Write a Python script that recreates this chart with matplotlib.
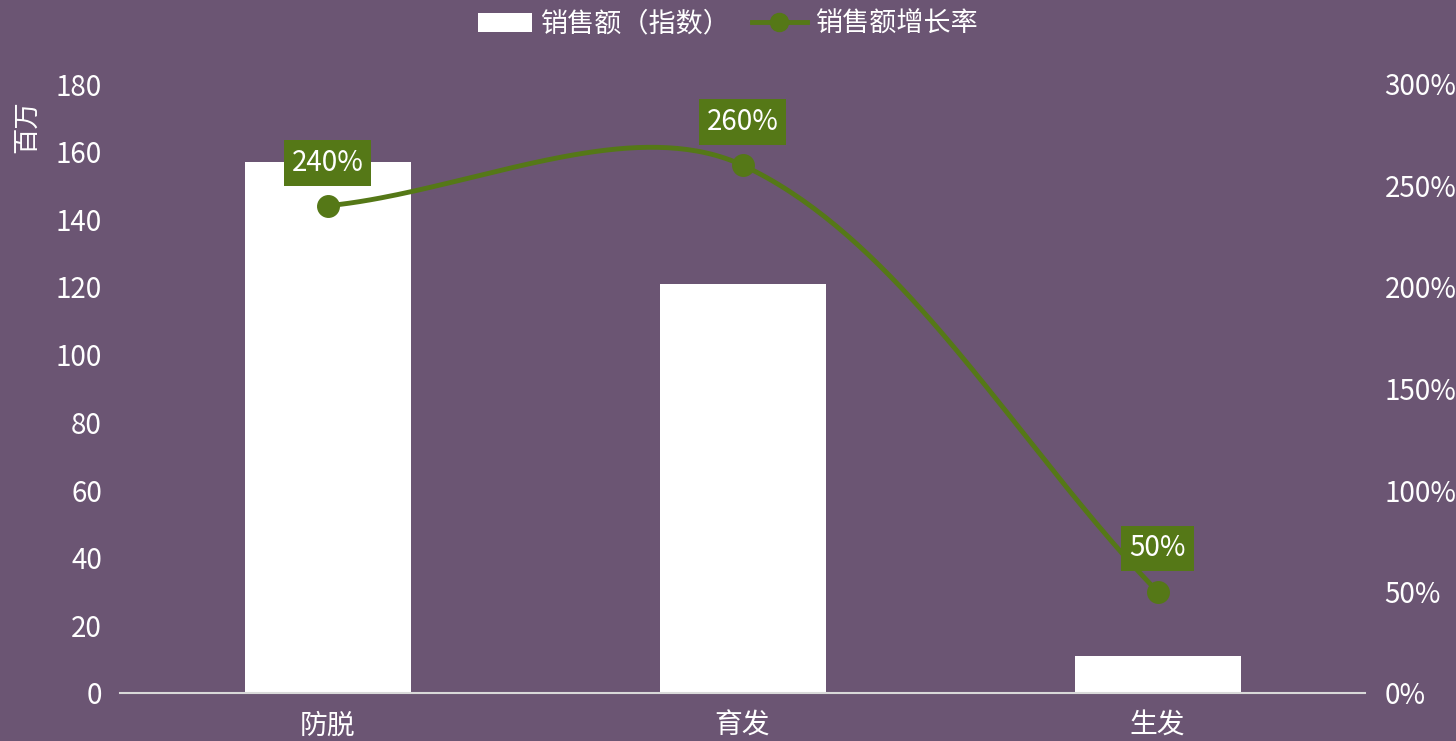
import numpy as np
import matplotlib.pyplot as plt
from matplotlib.lines import Line2D
from matplotlib.patches import Patch

plt.rcParams['font.family'] = ['Noto Sans CJK SC', 'DejaVu Sans']

categories = ['防脱', '育发', '生发']
sales = [157, 121, 11]
growth = [240, 260, 50]

bg = '#6B5573'
green = '#557817'

fig = plt.figure(figsize=(14.56, 7.41), dpi=100, facecolor=bg)
ax = fig.add_axes([120 / 1456, 48 / 741, 1245 / 1456, 609 / 741])
ax.set_facecolor(bg)
x = np.arange(len(categories))
ax.bar(x, sales, width=0.4, color='white', zorder=2)
ax.set_xlim(-0.5, 2.5)
ax.set_ylim(0, 180)
ax.set_yticks(range(0, 181, 20))
ax.set_xticks(x)
ax.set_xticklabels(categories)
for s in ['top', 'right', 'left']:
    ax.spines[s].set_visible(False)
ax.spines['bottom'].set_color('#D9D9D9')
ax.spines['bottom'].set_linewidth(1.5)
ax.tick_params(length=0, colors='white', labelsize=20)
ax.tick_params(axis='x', pad=13)
ax.tick_params(axis='y', pad=13)

ax2 = ax.twinx()
ax2.set_ylim(0, 300)
ax2.set_yticks(range(0, 301, 50))
ax2.set_yticklabels([f'{v}%' for v in range(0, 301, 50)])
for s in ax2.spines.values():
    s.set_visible(False)
ax2.tick_params(length=0, colors='white', labelsize=20, pad=14)

# smoothed line, bezier with length-weighted tangents (screen-like scale)
sx, sy = 415.0, 609.0 / 300
P = np.column_stack([x * sx, np.array(growth) * sy])
P = np.vstack([P[0], P, P[-1]])
xs, ys = [], []


def ctrl(a, b, c):
    # tangent at b, split by lengths of neighbouring segments
    la = np.hypot(*(b - a))
    lc = np.hypot(*(c - b))
    T = c - a
    tot = la + lc if la + lc > 0 else 1
    return b - T * (la / tot) / 3, b + T * (lc / tot) / 3


for i in range(1, len(P) - 2):
    p0, p1, p2, p3 = P[i - 1], P[i], P[i + 1], P[i + 2]
    c1 = ctrl(p0, p1, p2)[1]
    c2 = ctrl(p1, p2, p3)[0]
    t = np.linspace(0, 1, 80)[:, None]
    b = (1 - t) ** 3 * p1 + 3 * (1 - t) ** 2 * t * c1 + 3 * (1 - t) * t ** 2 * c2 + t ** 3 * p2
    xs.extend(b[:, 0] / sx)
    ys.extend(b[:, 1] / sy)
ax2.plot(xs, ys, color=green, lw=3.5, zorder=3, solid_capstyle='round')
ax2.plot(x, growth, 'o', color=green, ms=15.5, zorder=4)
for xi, g in zip(x, growth):
    ax2.annotate(f'{g}%', (xi, g), xytext=(0, 31), textcoords='offset points',
                 ha='center', va='center', color='white', fontsize=20,
                 bbox=dict(boxstyle='square,pad=0.28', fc=green, ec='none'))

fig.text(28 / 1456, 1 - 127 / 741, '百万', rotation=90, color='white',
         fontsize=19, ha='center', va='center')

handles = [Patch(facecolor='white', edgecolor='none'),
           Line2D([0], [0], color=green, lw=3.5, marker='o', ms=13)]
fig.legend(handles, ['销售额（指数）', '销售额增长率'], loc='center',
           bbox_to_anchor=(0.5, 1 - 24 / 741), ncol=2, frameon=False,
           fontsize=19.5, labelcolor='white', handlelength=2.0,
           handletextpad=0.33, columnspacing=0.8)

fig.savefig('out.png', dpi=100, facecolor=bg)
